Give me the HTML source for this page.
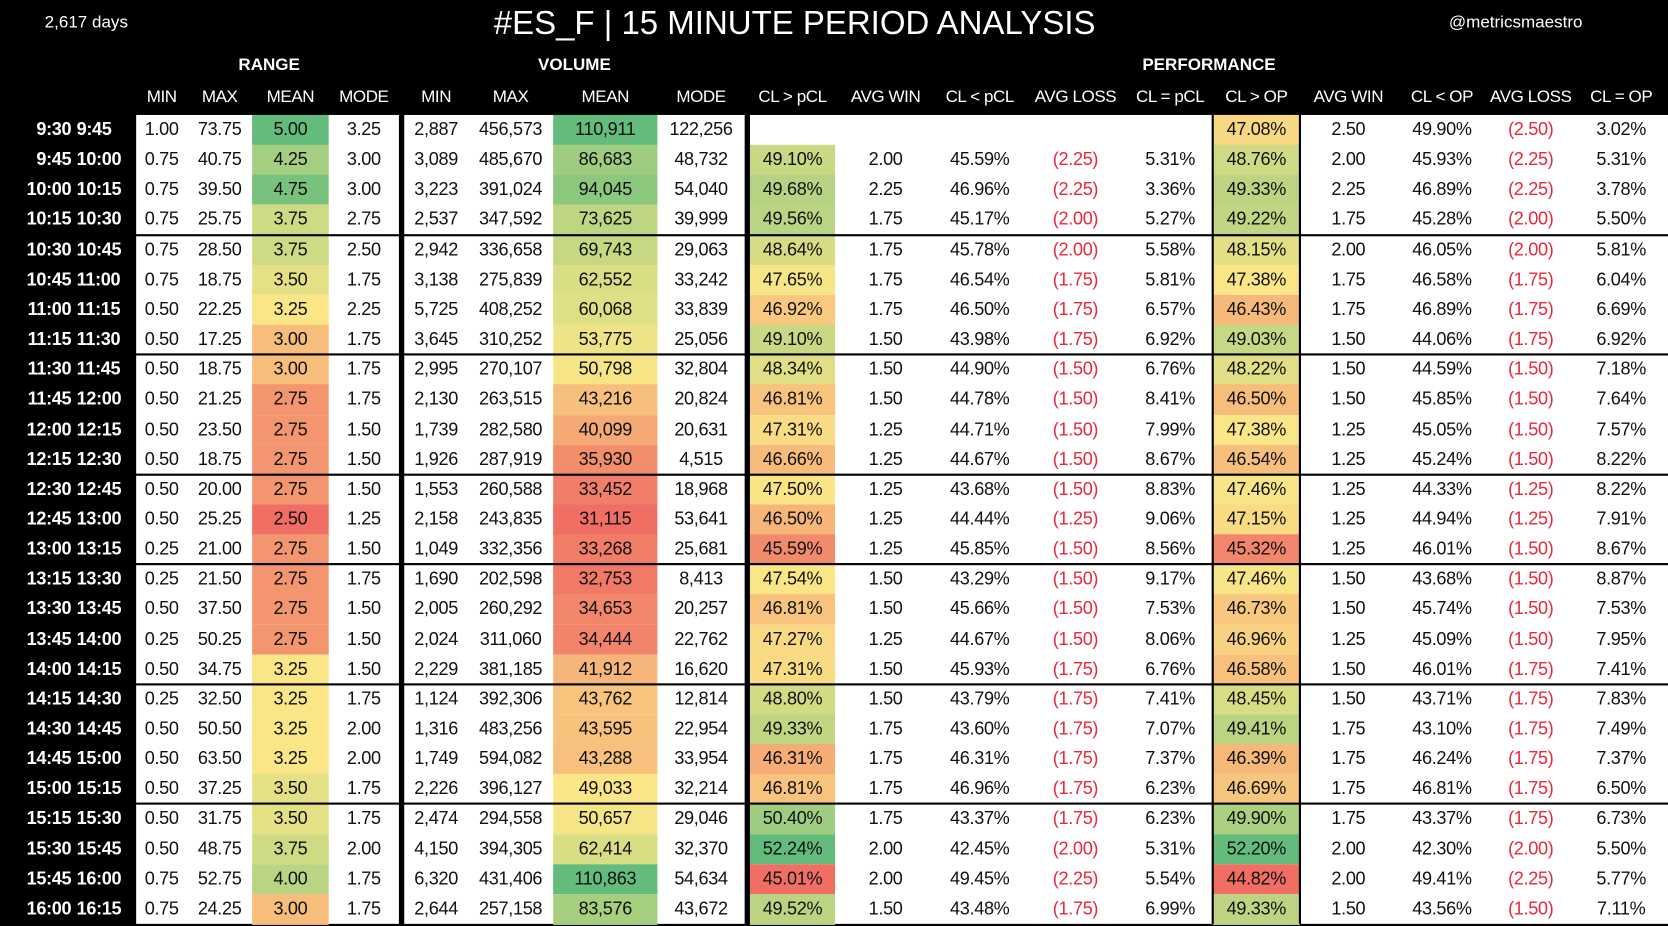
<!DOCTYPE html>
<html><head><meta charset="utf-8">
<style>
html,body{margin:0;padding:0;background:#000;overflow:hidden}
#wrap{position:absolute;left:0;top:0;width:1568px;height:870px;transform:scale(1.06378,1.06437);transform-origin:0 0;background:#000;font-family:"Liberation Sans",sans-serif}
.t{position:absolute;white-space:nowrap}
.cell{position:absolute;box-sizing:border-box;font-size:17px;color:#111;line-height:28px;text-align:center;letter-spacing:-0.3px}
.hd{position:absolute;color:#fff;font-size:16px;text-align:center;letter-spacing:-0.4px}
.gh{position:absolute;color:#fff;font-size:16px;font-weight:bold;text-align:center}
.tm{position:absolute;color:#fff;font-size:17px;font-weight:bold;line-height:28px;letter-spacing:-0.3px}
</style></head><body>
<div id="wrap">
<div class="t" style="left:42px;top:13px;color:#fff;font-size:16px">2,617 days</div>
<div class="t" style="left:0;width:1494px;text-align:center;top:4px;color:#fff;font-size:31px">#ES_F | 15 MINUTE PERIOD ANALYSIS</div>
<div class="t" style="left:1362px;top:13px;color:#fff;font-size:16px">@metricsmaestro</div>
<div class="gh" style="left:128px;width:250px;top:53px">RANGE</div>
<div class="gh" style="left:380px;width:320px;top:53px">VOLUME</div>
<div class="gh" style="left:705px;width:863px;top:53px">PERFORMANCE</div>
</div>
<script>
const headers=["MIN","MAX","MEAN","MODE","MIN","MAX","MEAN","MODE","CL > pCL","AVG WIN","CL < pCL","AVG LOSS","CL = pCL","CL > OP","AVG WIN","CL < OP","AVG LOSS","CL = OP"];
const starts=["9:30","9:45","10:00","10:15","10:30","10:45","11:00","11:15","11:30","11:45","12:00","12:15","12:30","12:45","13:00","13:15","13:30","13:45","14:00","14:15","14:30","14:45","15:00","15:15","15:30","15:45","16:00"];
const ends=["9:45","10:00","10:15","10:30","10:45","11:00","11:15","11:30","11:45","12:00","12:15","12:30","12:45","13:00","13:15","13:30","13:45","14:00","14:15","14:30","14:45","15:00","15:15","15:30","15:45","16:00","16:15"];
const dividerRows=[4,8,12,15,19,23];
const rangeMin=[1.00,0.75,0.75,0.75,0.75,0.75,0.50,0.50,0.50,0.50,0.50,0.50,0.50,0.50,0.25,0.25,0.50,0.25,0.50,0.25,0.50,0.50,0.50,0.50,0.50,0.75,0.75];
const rangeMax=[73.75,40.75,39.50,25.75,28.50,18.75,22.25,17.25,18.75,21.25,23.50,18.75,20.00,25.25,21.00,21.50,37.50,50.25,34.75,32.50,50.50,63.50,37.25,31.75,48.75,52.75,24.25];
const rangeMean=[5.00,4.25,4.75,3.75,3.75,3.50,3.25,3.00,3.00,2.75,2.75,2.75,2.75,2.50,2.75,2.75,2.75,2.75,3.25,3.25,3.25,3.25,3.50,3.50,3.75,4.00,3.00];
const rangeMode=[3.25,3.00,3.00,2.75,2.50,1.75,2.25,1.75,1.75,1.75,1.50,1.50,1.50,1.25,1.50,1.75,1.50,1.50,1.50,1.75,2.00,2.00,1.75,1.75,2.00,1.75,1.75];
const volMin=[2887,3089,3223,2537,2942,3138,5725,3645,2995,2130,1739,1926,1553,2158,1049,1690,2005,2024,2229,1124,1316,1749,2226,2474,4150,6320,2644];
const volMax=[456573,485670,391024,347592,336658,275839,408252,310252,270107,263515,282580,287919,260588,243835,332356,202598,260292,311060,381185,392306,483256,594082,396127,294558,394305,431406,257158];
const volMean=[110911,86683,94045,73625,69743,62552,60068,53775,50798,43216,40099,35930,33452,31115,33268,32753,34653,34444,41912,43762,43595,43288,49033,50657,62414,110863,83576];
const volMode=[122256,48732,54040,39999,29063,33242,33839,25056,32804,20824,20631,4515,18968,53641,25681,8413,20257,22762,16620,12814,22954,33954,32214,29046,32370,54634,43672];
const clGtPcl=[null,49.10,49.68,49.56,48.64,47.65,46.92,49.10,48.34,46.81,47.31,46.66,47.50,46.50,45.59,47.54,46.81,47.27,47.31,48.80,49.33,46.31,46.81,50.40,52.24,45.01,49.52];
const avgWinP=[null,2.00,2.25,1.75,1.75,1.75,1.75,1.50,1.50,1.50,1.25,1.25,1.25,1.25,1.25,1.50,1.50,1.25,1.50,1.50,1.75,1.75,1.75,1.75,2.00,2.00,1.50];
const clLtPcl=[null,45.59,46.96,45.17,45.78,46.54,46.50,43.98,44.90,44.78,44.71,44.67,43.68,44.44,45.85,43.29,45.66,44.67,45.93,43.79,43.60,46.31,46.96,43.37,42.45,49.45,43.48];
const avgLossP=[null,2.25,2.25,2.00,2.00,1.75,1.75,1.75,1.50,1.50,1.50,1.50,1.50,1.25,1.50,1.50,1.50,1.50,1.75,1.75,1.75,1.75,1.75,1.75,2.00,2.25,1.75];
const clEqPcl=[null,5.31,3.36,5.27,5.58,5.81,6.57,6.92,6.76,8.41,7.99,8.67,8.83,9.06,8.56,9.17,7.53,8.06,6.76,7.41,7.07,7.37,6.23,6.23,5.31,5.54,6.99];
const clGtOp=[47.08,48.76,49.33,49.22,48.15,47.38,46.43,49.03,48.22,46.50,47.38,46.54,47.46,47.15,45.32,47.46,46.73,46.96,46.58,48.45,49.41,46.39,46.69,49.90,52.20,44.82,49.33];
const avgWinO=[2.50,2.00,2.25,1.75,2.00,1.75,1.75,1.50,1.50,1.50,1.25,1.25,1.25,1.25,1.25,1.50,1.50,1.25,1.50,1.50,1.75,1.75,1.75,1.75,2.00,2.00,1.50];
const clLtOp=[49.90,45.93,46.89,45.28,46.05,46.58,46.89,44.06,44.59,45.85,45.05,45.24,44.33,44.94,46.01,43.68,45.74,45.09,46.01,43.71,43.10,46.24,46.81,43.37,42.30,49.41,43.56];
const avgLossO=[2.50,2.25,2.25,2.00,2.00,1.75,1.75,1.75,1.50,1.50,1.50,1.50,1.25,1.25,1.50,1.50,1.50,1.50,1.75,1.75,1.75,1.75,1.75,1.75,2.00,2.25,1.50];
const clEqOp=[3.02,5.31,3.78,5.50,5.81,6.04,6.69,6.92,7.18,7.64,7.57,8.22,8.22,7.91,8.67,8.87,7.53,7.95,7.41,7.83,7.49,7.37,6.50,6.73,5.50,5.77,7.11];

const W=document.getElementById('wrap');
const colX=[[128,176],[176,237],[237,309],[309,375],[380,440],[440,520],[520,618],[618,700],[705,785],[785,880],[880,962],[962,1060],[1060,1140],[1140,1222],[1222,1313],[1313,1398],[1398,1480],[1480,1568]];
const TOP=108,RH=28.15;
const f2=v=>v.toFixed(2), fc=v=>v.toLocaleString('en-US'), fp=v=>v.toFixed(2)+'%', fl=v=>'('+v.toFixed(2)+')';
const cols=[[rangeMin,f2],[rangeMax,f2],[rangeMean,f2,1],[rangeMode,f2],[volMin,fc],[volMax,fc],[volMean,fc,1],[volMode,fc],[clGtPcl,fp,1],[avgWinP,f2],[clLtPcl,fp],[avgLossP,fl,0,1],[clEqPcl,fp],[clGtOp,fp,1],[avgWinO,f2],[clLtOp,fp],[avgLossO,fl,0,1],[clEqOp,fp]];
const names=['range-min','range-max','range-mean','range-mode','volume-min','volume-max','volume-mean','volume-mode','cl-gt-pcl','avg-win-pcl','cl-lt-pcl','avg-loss-pcl','cl-eq-pcl','cl-gt-op','avg-win-op','cl-lt-op','avg-loss-op','cl-eq-op'];
function lerp(a,b,t){return a.map((x,i)=>Math.round(x+(b[i]-x)*t));}
const RED=[240,110,100],YEL=[250,230,135],GRN=[99,188,123];
function scaleColor(arr,v){
  const vals=arr.filter(x=>x!=null).sort((a,b)=>a-b);
  const mn=vals[0],mx=vals[vals.length-1],md=vals[Math.floor(vals.length/2)];
  let c=v<=md?lerp(RED,YEL,(v-mn)/((md-mn)||1)):lerp(YEL,GRN,(v-md)/((mx-md)||1));
  return 'rgb('+c.join(',')+')';
}
[[128,375],[380,700],[705,1568]].forEach((s,i)=>{
  const d=document.createElement('div');
  
  
  d.style.cssText=`position:absolute;left:${s[0]}px;top:${TOP}px;width:${s[1]-s[0]}px;height:${RH*starts.length}px;background:#fff`;
  W.appendChild(d);
});
headers.forEach((h,i)=>{
  const d=document.createElement('div');
  
  
  d.className='hd';
  d.style.left=colX[i][0]+'px';d.style.width=(colX[i][1]-colX[i][0])+'px';d.style.top='83px';
  d.textContent=h;W.appendChild(d);
});
starts.forEach((s,r)=>{
  const y=TOP+r*RH;
  const a=document.createElement('div');
  
  
  a.className='tm';a.style.cssText+=`left:0;width:67px;text-align:right;top:${y}px`;a.textContent=s;W.appendChild(a);
  const b=document.createElement('div');
  
  
  b.className='tm';b.style.cssText+=`left:72px;top:${y}px`;b.textContent=ends[r];W.appendChild(b);
  cols.forEach((c,i)=>{
    const v=c[0][r];
    const d=document.createElement('div');
    
    
    d.className='cell';
    d.style.left=colX[i][0]+'px';d.style.width=(colX[i][1]-colX[i][0])+'px';
    d.style.top=y+'px';d.style.height=(RH+0.5)+'px';
    if(v!=null){
      d.textContent=c[1](v);
      if(c[2]) d.style.background=scaleColor(c[0],v);
      if(c[3]) d.style.color='#e8283c';
    }
    W.appendChild(d);
  });
});
dividerRows.forEach(k=>{
  const d=document.createElement('div');
  
  
  d.style.cssText=`position:absolute;left:0;width:1568px;top:${TOP+k*RH-1}px;height:2px;background:#000`;
  W.appendChild(d);
});
[1139,1221].forEach(x=>{
  const d=document.createElement('div');
  
  
  d.style.cssText=`position:absolute;left:${x}px;top:${TOP}px;width:1.5px;height:${RH*starts.length}px;background:#000`;
  W.appendChild(d);
});
</script>
</body></html>
